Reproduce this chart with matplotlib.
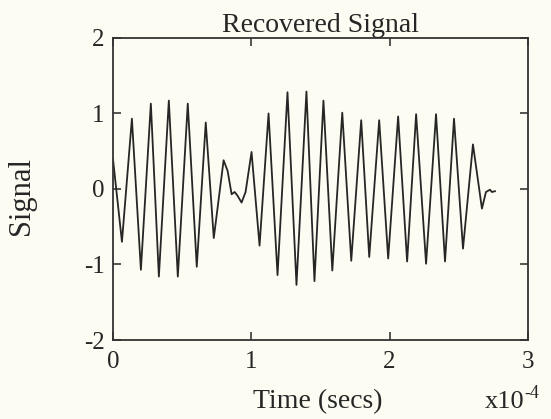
import numpy as np
import matplotlib as mpl
mpl.use('Agg')
import matplotlib.pyplot as plt

# Time in units of 1e-4 s (peaks, troughs and the small wiggles)
t_pts = [0.00, 0.065, 0.137, 0.202, 0.274, 0.332, 0.404, 0.469, 0.541, 0.606, 0.671,
         0.729, 0.800, 0.829, 0.858, 0.880, 0.901, 0.930, 0.959, 1.002, 1.060,
         1.125, 1.190, 1.262, 1.327, 1.399, 1.457, 1.522, 1.586, 1.658, 1.723,
         1.795, 1.853, 1.925, 1.990, 2.062, 2.127, 2.192, 2.264, 2.336, 2.401,
         2.466, 2.531, 2.603, 2.668, 2.697, 2.726, 2.740, 2.762]
sig_pts = [0.40, -0.70, 0.93, -1.07, 1.13, -1.16, 1.17, -1.16, 1.13, -1.03, 0.88,
           -0.65, 0.38, 0.24, -0.07, -0.04, -0.09, -0.18, -0.04, 0.49, -0.75,
           1.00, -1.14, 1.28, -1.27, 1.29, -1.22, 1.17, -1.08, 1.01, -0.95,
           0.91, -0.90, 0.91, -0.92, 0.96, -0.96, 0.99, -0.99, 0.99, -0.96,
           0.93, -0.79, 0.59, -0.26, -0.04, -0.01, -0.04, -0.03]

x_ticks = [0, 1, 2, 3]
y_ticks = [-2, -1, 0, 1, 2]
y_labels = ['-2', '-1', '0', '1', '2']

plt.rcParams['font.family'] = ['Liberation Serif', 'DejaVu Serif']
bg = '#fcfcf2'
ink = '#262626'

fig = plt.figure(figsize=(5.51, 4.19), dpi=100, facecolor=bg)
ax = fig.add_axes([0.205, 0.1885, 0.753, 0.721], facecolor=bg)

ax.plot(t_pts, sig_pts, color=ink, lw=1.3)

ax.set_xlim(0, 3)
ax.set_ylim(-2, 2)
ax.set_xticks(x_ticks)
ax.set_yticks(y_ticks)
ax.set_yticklabels(y_labels)
ax.tick_params(direction='in', top=True, right=True, length=6, width=1.1,
               labelsize=18, colors=ink)
ax.tick_params(axis='y', pad=6)
ax.tick_params(axis='x', pad=8)
for s in ax.spines.values():
    s.set_linewidth(1.3)
    s.set_color('#333333')

ax.set_title('Recovered Signal', fontsize=20, pad=4, color=ink)
fig.text(318 / 551, 1 - 408 / 419, 'Time (secs)', fontsize=20, color=ink,
         ha='center', va='baseline')
fig.text(22 / 551, 1 - 196 / 419, 'Signal', fontsize=22, color=ink,
         ha='center', va='center', rotation=90)
# axis multiplier, drawn as two pieces of text
fig.text(485 / 551, 1 - 408 / 419, 'x10', fontsize=19, color=ink,
         ha='left', va='baseline')
fig.text(524 / 551, 1 - 398 / 419, '-4', fontsize=13, color=ink,
         ha='left', va='baseline')

fig.savefig('out.png', dpi=100, facecolor=bg)
